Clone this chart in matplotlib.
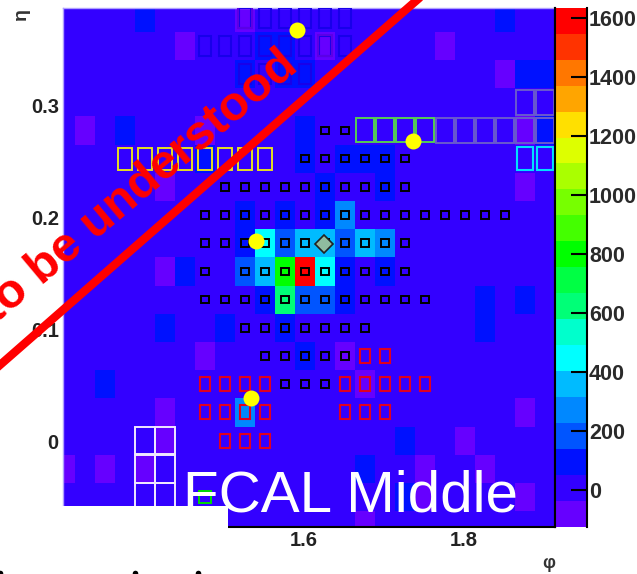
# FCAL middle layer, eta-phi map with cluster boxes
import numpy as np
import matplotlib
matplotlib.use('Agg')
import matplotlib.pyplot as plt
from matplotlib.colors import ListedColormap, BoundaryNorm
from matplotlib.patches import Rectangle
from matplotlib.lines import Line2D

plt.rcParams['font.family'] = ['Liberation Sans', 'DejaVu Sans']

# cell energies, rows from top (high eta) to bottom, columns by rising phi
cells = [
    [0, 0, 0, 0, 100, 0, 0, 0, 0, -80, 0, 0, 0, 0, 0, 0, 0, 0, 0, 0, 0, 0, 100, 0, 0],
    [0, 0, 0, 0, 0, 0, -80, 0, 0, 0, 100, 100, 0, -80, 0, 0, 0, 0, 0, -80, 0, 0, 0, 0, 0],
    [0, 0, 0, 0, 0, 0, 0, 0, 0, 100, 0, 100, 100, 0, 0, 0, 0, 0, 0, 0, 0, 0, -80, 100, 100],
    [0, 0, 0, 0, 0, 0, 0, 0, 0, 0, 0, 0, 0, 0, 0, 0, 0, 0, 0, 0, 0, 0, 0, 0, 0],
    [0, -80, 0, 100, 0, 0, 0, -80, 0, 0, 0, 0, 100, 0, 0, 0, 0, 0, 0, 0, 0, 0, 0, -80, 100],
    [0, 0, 0, 0, 0, 0, 0, 100, 0, 0, 0, 0, 100, 0, 100, 100, 100, 0, 0, 0, 0, 0, 0, 0, 0],
    [0, 0, 0, 0, 0, -80, 0, 0, 0, 0, 0, 0, 0, 100, 0, 0, 100, 0, 0, 0, 0, 0, 0, -80, 0],
    [0, 0, 0, 0, 0, 0, 0, 0, 0, 100, 0, 100, 0, 100, 270, 0, 0, 0, 0, 0, 0, 0, 0, 0, 0],
    [0, 0, 0, 0, 0, 0, 0, 0, 0, 100, 450, 180, 360, 360, 180, 360, 270, 0, 0, 0, 0, 0, 0, 0, 0],
    [0, 0, 0, 0, 0, -80, 100, 0, 0, 180, 360, 800, 1600, 450, 100, 0, 100, 0, 0, 0, 0, 0, 0, 0, 0],
    [0, 0, 0, 0, 0, 0, 0, 0, 0, 0, 100, 620, 180, 180, 100, 0, 0, 0, 0, 0, 0, 100, 0, 100, 0],
    [0, 0, 0, 0, 0, 100, 0, 0, 100, 0, 0, 100, 0, 0, 0, 0, 0, 0, 0, 0, 0, 100, 0, 0, 0],
    [0, 0, 0, 0, 0, 0, 0, -80, 0, 0, 0, 0, 100, 0, -80, 0, 0, 0, 0, 0, 0, 0, 0, 0, 0],
    [0, 0, 100, 0, 0, 0, 0, 0, 0, 0, 0, 0, 0, 0, 0, -80, 0, 0, 0, 0, 0, 0, 0, 0, 0],
    [0, 0, 0, 0, 0, -80, 0, 0, 0, 270, 0, 0, 0, 0, 0, 0, 0, 0, 0, 0, 0, 0, 0, -80, 0],
    [0, 0, 0, 0, 0, -80, 0, 0, 0, 0, 0, 0, 0, 0, 0, 0, 0, 100, 0, 0, -80, 0, 0, 0, 0],
    [-80, 0, -80, 0, -80, 0, 0, 0, 0, 0, 0, 0, 0, 0, 0, 100, 0, 0, -80, 0, 0, -80, 0, 0, 0],
    [0, 0, 0, 0, 0, 0, 0, 0, 0, 0, 0, 0, 0, 0, 0, 0, 0, 100, -80, 0, 0, 0, 0, -80, 0],
    [0, 0, 0, 0, 0, 0, 0, 0, 0, 0, 0, 0, 0, 0, 0, -80, 0, 0, 0, 0, 0, 0, 0, 0, 0],
]

# (row, columns) of the boxes around the cells
black_boxes = {
    4: [13, 14],
    5: list(range(12, 18)),
    6: list(range(8, 18)),
    7: list(range(7, 23)),
    8: list(range(7, 18)),
    9: [7] + list(range(9, 18)),
    10: list(range(7, 19)),
    11: list(range(9, 16)),
    12: list(range(10, 15)),
    13: [11, 12, 13],
}
red_boxes = {
    12: [15, 16],
    13: [7, 8, 9, 10, 14, 15, 16, 17, 18],
    14: [7, 8, 9, 10, 14, 15, 16],
    15: [8, 9, 10],
}
top_boxes = {
    0: [9, 10, 11, 12, 13, 14],
    1: [7, 8, 9, 10, 11, 12, 13, 14],
    2: [9, 10, 11, 12],
}
yellow_boxes = {5: [3, 4, 5, 6, 7, 8, 9, 10]}
green_boxes = {4: [15, 16, 17, 18]}
grey_boxes = {3: [23, 24], 4: [19, 20, 21, 22, 23, 24]}
cyan_boxes = {5: [23, 24]}
white_boxes = {15: [4, 5], 16: [4, 5], 17: [4, 5]}
small_green_boxes = {17: [7]}

# marker positions
dots_phi = [1.591, 1.736, 1.54, 1.534]
dots_eta = [0.3679, 0.2686, 0.1787, 0.0385]
diamond_phi = [1.625]
diamond_eta = [0.176]

level_ticks = [0, 200, 400, 600, 800, 1000, 1200, 1400, 1600]
level_bounds = [-125 + 88 * i for i in range(21)]
level_colors = ['#6600ff', '#3300ff', '#0011ff', '#0055ff', '#0088ff', '#00bbff', '#00ffff',
                '#00ffcc', '#00ff77', '#00ff44', '#00ff00', '#44ff00', '#77ff00', '#aaff00',
                '#ddff00', '#ffe000', '#ffa500', '#ff7700', '#ff3300', '#ff0000']

cmap = ListedColormap(level_colors)
norm = BoundaryNorm(level_bounds, cmap.N)

W, H = 637, 574
fig = plt.figure(figsize=(W / 100, H / 100), dpi=100)
ax = fig.add_axes([63 / W, 1 - 527 / H, (555 - 63) / W, (527 - 8) / H])
cax = fig.add_axes([555 / W, 1 - 527 / H, (587 - 555) / W, (527 - 8) / H])

phi_edges = 1.28875 + 0.025 * np.arange(26)
eta_edges = 0.3917 - 0.02525 * np.arange(20)
ax.pcolormesh(phi_edges, eta_edges, np.array(cells), cmap=cmap, norm=norm)
ax.set_xlim(1.29875, 1.91375)
ax.set_ylim(-0.077, 0.3877)


def draw_boxes(boxes, w, h, color, lw):
    for row, cols in boxes.items():
        for col in cols:
            xc = (phi_edges[col] + phi_edges[col + 1]) / 2
            yc = (eta_edges[row] + eta_edges[row + 1]) / 2
            ax.add_patch(Rectangle((xc - w / 2, yc - h / 2), w, h, fill=False,
                                   edgecolor=color, lw=lw, zorder=3))


draw_boxes(top_boxes, 0.016, 0.018, '#1800ea', 1.5)
draw_boxes({0: [9], 1: [13]}, 0.017, 0.019, '#5a00e6', 1.5)
draw_boxes(black_boxes, 0.0094, 0.0067, 'black', 1.4)
draw_boxes(red_boxes, 0.0125, 0.0125, '#e00020', 1.5)
draw_boxes(yellow_boxes, 0.0175, 0.0195, '#e6e020', 1.4)
draw_boxes(green_boxes, 0.0235, 0.0215, '#55cc55', 1.4)
draw_boxes(grey_boxes, 0.0235, 0.0225, '#6a5acd', 1.4)
draw_boxes(cyan_boxes, 0.0205, 0.0205, '#00e0ff', 1.5)
draw_boxes(white_boxes, 0.024, 0.0245, '#f0e8ff', 1.4)
draw_boxes(small_green_boxes, 0.015, 0.0115, '#00dd00', 1.4)

ax.plot(dots_phi, dots_eta, 'o', color='#ffff00', ms=11.5, mew=0, zorder=5)
ax.plot(diamond_phi, diamond_eta, 'D', color='#8fbc9f', mec='#222222', ms=9, mew=1.2, zorder=5)

ax.set_xticks([1.6, 1.8])
ax.set_xticklabels(['1.6', '1.8'], fontweight='bold', fontsize=14.5, color='#222222')
ax.set_yticks([0, 0.1, 0.2, 0.3])
ax.set_yticklabels(['0', '0.1', '0.2', '0.3'], fontweight='bold', fontsize=14.5, color='#222222')
ax.tick_params(length=0, pad=3)
ax.tick_params(axis='x', pad=3)
for side in ['left', 'top']:
    ax.spines[side].set_color('#b0a0ff')
    ax.spines[side].set_linewidth(1)
ax.spines['right'].set_linewidth(1.5)
ax.spines['bottom'].set_linewidth(1.5)

cax.pcolormesh([0, 1], level_bounds, np.array(level_bounds[:-1]).reshape(-1, 1) + 44,
               cmap=cmap, norm=norm)
cax.set_xlim(0, 1)
cax.set_ylim(-125, 1634)
cax.set_xticks([])
cax.yaxis.tick_right()
cax.set_yticks(level_ticks)
cax.set_yticklabels([str(t) for t in level_ticks], fontsize=15.5, fontweight='bold', color='#2a2a2a')
cax.tick_params(axis='y', direction='in', length=11.5, width=1.5, pad=1.5)
for side in ['top', 'bottom']:
    cax.spines[side].set_visible(False)
cax.spines['left'].set_linewidth(1.5)
cax.spines['right'].set_linewidth(1.5)

# the white corner that hides the lower left of the map
fig.add_artist(Rectangle((0, 1 - 540 / H), 228 / W, 34 / H, transform=fig.transFigure,
                         facecolor='white', edgecolor='none', zorder=6))

fig.text(183 / W, 1 - 512 / H, 'FCAL Middle', color='white', fontsize=42, zorder=8)
fig.add_artist(Line2D([0, 417 / W], [1 - 365 / H, 1], color='#ff0000', lw=6, zorder=9))
fig.text(-4 / W, 1 - 324 / H, 'to be understood', color='#ff0000', fontsize=35, fontweight='bold',
         rotation=40, rotation_mode='anchor', ha='left', va='baseline', zorder=9)
fig.text(549 / W, 1 - 564 / H, '\u03c6', fontsize=13, fontweight='bold', color='#333333',
         ha='center', va='center', zorder=8)
fig.text(21 / W, 1 - 14 / H, '\u03b7', fontsize=14, fontweight='bold', color='#333333',
         rotation=90, ha='center', va='center', zorder=8)

# tops of a text line cut off by the lower edge
fig.add_artist(Line2D([0, 135 / W, 198 / W], [1 - 573 / H] * 3, ls='none', marker='o', ms=4,
                      mew=0, color='black', zorder=8))

fig.savefig('out.png', dpi=100)
